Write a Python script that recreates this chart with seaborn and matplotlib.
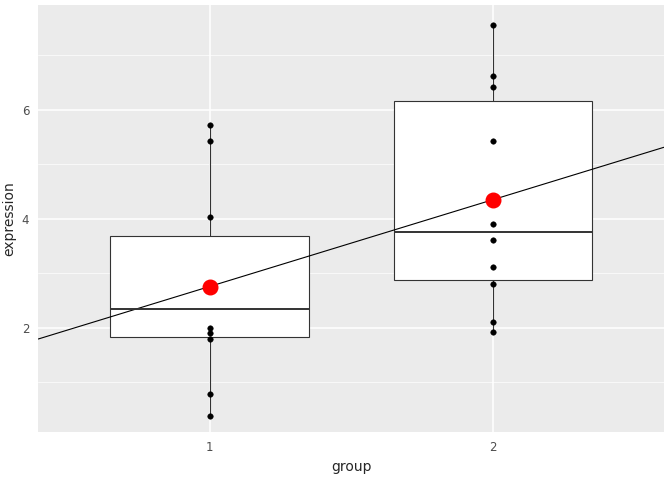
import matplotlib
matplotlib.use("Agg")
import matplotlib.pyplot as plt
import seaborn as sns
import pandas as pd
import numpy as np

g1 = [0.39, 0.79, 1.80, 1.91, 2.00, 4.04, 5.43, 5.72]
g2 = [1.93, 2.11, 2.81, 3.12, 3.61, 3.91, 5.43, 6.42, 6.62, 7.56]
box_q1 = [1.83, 2.88]
box_med = [2.35, 3.76]
box_q3 = [3.69, 6.17]
box_lo = [0.39, 1.93]
box_hi = [5.72, 7.56]

df = pd.DataFrame({"group": [1]*len(g1) + [2]*len(g2), "expression": g1 + g2})
means = df.groupby("group")["expression"].mean()

sns.set_theme(style="darkgrid", rc={"axes.facecolor": "#EBEBEB", "grid.color": "white"})
fig, ax = plt.subplots(figsize=(6.72, 4.8), dpi=100)
ax.set_xlim(0.395, 2.605)
ax.set_ylim(0.09, 7.93)
ax.set_yticks([1, 3, 5, 7], minor=True)
ax.grid(which="minor", axis="y", color="white", linewidth=0.5)
ax.grid(which="major", color="white", linewidth=1.1)

stats = [dict(med=box_med[i], q1=box_q1[i], q3=box_q3[i], whislo=box_lo[i], whishi=box_hi[i], fliers=[]) for i in range(2)]
ax.bxp(stats, positions=[1, 2], widths=0.7, showfliers=False, patch_artist=True,
       boxprops=dict(facecolor="white", edgecolor="#333333", linewidth=0.8),
       medianprops=dict(color="#333333", linewidth=1.4),
       whiskerprops=dict(color="#333333", linewidth=0.8), capprops=dict(linewidth=0), zorder=2)

sns.scatterplot(data=df, x="group", y="expression", color="black", s=16, edgecolor=None, ax=ax, zorder=3)
sns.regplot(data=df, x="group", y="expression", ci=None, scatter=False, truncate=False,
            line_kws=dict(color="black", linewidth=0.8), ax=ax)
ax.scatter(means.index, means.values, color="red", s=110, zorder=4)

ax.set_xticks([1, 2]); ax.set_xticklabels(["1", "2"])
ax.set_yticks([2, 4, 6]); ax.set_yticklabels(["2", "4", "6"])
ax.set_xlim(0.395, 2.605)
ax.tick_params(colors="#4D4D4D", labelsize=8.5, length=3, width=0.8, color="#333333")
ax.set_xlabel("group", fontsize=10)
ax.set_ylabel("expression", fontsize=10)
for s in ax.spines.values():
    s.set_visible(False)
fig.subplots_adjust(left=0.057, right=0.988, top=0.99, bottom=0.1)
fig.savefig("out.png")
